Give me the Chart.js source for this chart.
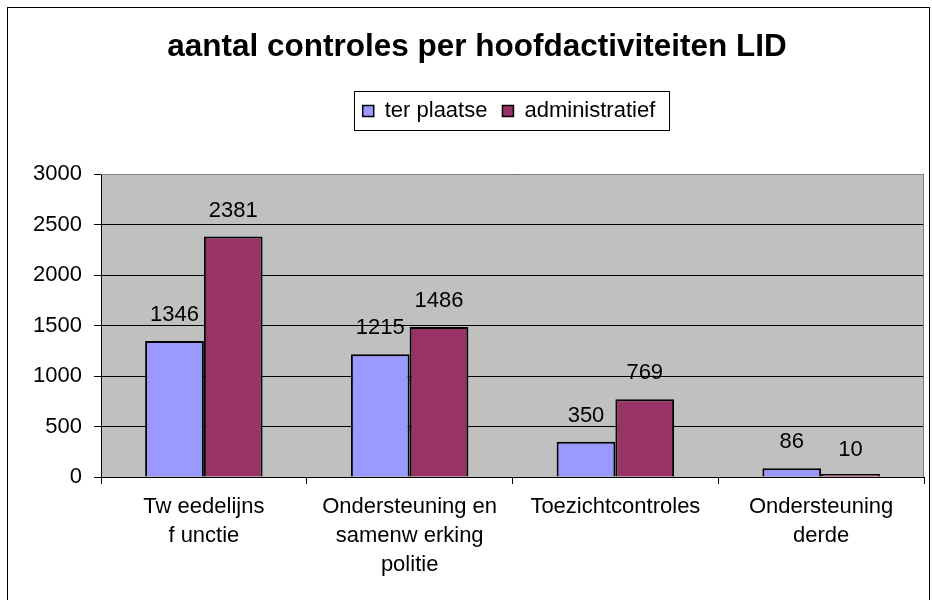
<!DOCTYPE html>
<html>
<head>
<meta charset="utf-8">
<script src="https://cdn.jsdelivr.net/npm/chart.js@4.4.1/dist/chart.umd.min.js"></script>
<style>
  html, body { margin: 0; padding: 0; background: #fff; }
  #wrap { width: 932px; height: 600px; position: relative; }
</style>
</head>
<body>
<div id="wrap"><canvas id="chart" width="932" height="600"></canvas></div>
<script>
// Data
const categories = [
  ['Tw eedelijns', 'f unctie'],
  ['Ondersteuning en', 'samenw erking', 'politie'],
  ['Toezichtcontroles'],
  ['Ondersteuning', 'derde']
];
const terPlaatse = [1346, 1215, 350, 86];
const administratief = [2381, 1486, 769, 10];
const yTicks = [0, 500, 1000, 1500, 2000, 2500, 3000];

const FONT = "'Liberation Sans', Arial, sans-serif";

// empty box between legend and plot
const spacer = {
  id: 'spacer',
  beforeInit(chart) {
    const box = {
      position: 'top', weight: 500, fullSize: true, options: {},
      top: 0, left: 0, right: 0, bottom: 0, width: 0, height: 0,
      isHorizontal() { return true; },
      update(maxWidth) { this.width = maxWidth; this.height = 42; },
      draw() {}
    };
    Chart.layouts.addBox(chart, box);
  },
  // title and legend are not centred on the canvas in the original
  afterLayout(chart) {
    const shift = (blk, d) => { if (blk) { blk.left += d; blk.right += d; } };
    shift(chart.titleBlock, 15);
    shift(chart.legend, 47);
  }
};

// gray plot area, outer frame, legend border
const frame = {
  id: 'frame',
  beforeDraw(chart) {
    const c = chart.ctx, a = chart.chartArea;
    c.save();
    c.fillStyle = '#fff';
    c.fillRect(0, 0, chart.width, chart.height);
    c.strokeStyle = '#000';
    c.lineWidth = 1;
    c.strokeRect(7.5, 7.5, 922, 600);
    c.fillStyle = '#C0C0C0';
    c.fillRect(a.left, a.top, a.right - a.left, a.bottom - a.top);
    c.restore();
  },
  afterDraw(chart) {
    const c = chart.ctx, a = chart.chartArea;
    c.save();
    c.strokeStyle = '#808080';
    c.lineWidth = 1;
    c.beginPath();
    c.moveTo(a.left, a.top + 0.5);
    c.lineTo(a.right - 0.5, a.top + 0.5);
    c.lineTo(a.right - 0.5, a.bottom);
    c.stroke();
    const boxes = chart.legend.legendHitBoxes;
    if (boxes.length) {
      const l = Math.min(...boxes.map(b => b.left));
      const r = Math.max(...boxes.map(b => b.left + b.width));
      const mid = boxes[0].top + boxes[0].height / 2;
      c.strokeStyle = '#000';
      c.strokeRect(Math.round(l - 9) + 0.5, Math.round(mid - 20) + 0.5, Math.round(r - l + 22), 39);
    }
    c.restore();
  }
};

// value labels above bars
const valueLabels = {
  id: 'valueLabels',
  afterDatasetsDraw(chart) {
    const c = chart.ctx;
    c.save();
    c.font = '22px ' + FONT;
    c.fillStyle = '#000';
    c.textAlign = 'center';
    c.textBaseline = 'middle';
    chart.data.datasets.forEach((ds, di) => {
      chart.getDatasetMeta(di).data.forEach((bar, i) => {
        const top = chart.scales.y.getPixelForValue(ds.data[i]);
        c.fillText(String(ds.data[i]), bar.x, top - 26);
      });
    });
    c.restore();
  }
};

new Chart(document.getElementById('chart'), {
  type: 'bar',
  data: {
    labels: categories,
    datasets: [
      { label: 'ter plaatse', data: terPlaatse, backgroundColor: '#9999FF', borderColor: '#000', borderWidth: 2, minBarLength: 3 },
      { label: 'administratief', data: administratief, backgroundColor: '#993366', borderColor: '#000', borderWidth: 2, minBarLength: 3 }
    ]
  },
  options: {
    responsive: false,
    animation: false,
    devicePixelRatio: 1,
    categoryPercentage: 0.571,
    barPercentage: 1,
    layout: { padding: { top: 10, left: 0, right: 8, bottom: 0 } },
    plugins: {
      title: {
        display: true,
        text: 'aantal controles per hoofdactiviteiten LID',
        color: '#000',
        font: { family: FONT, size: 31.5, weight: 'bold', lineHeight: 1.2 },
        padding: { top: 18, bottom: 19.2 }
      },
      legend: {
        display: true,
        labels: {
          color: '#000',
          font: { family: FONT, size: 22 },
          boxWidth: 11,
          boxHeight: 11,
          padding: 15,
          generateLabels(chart) {
            return chart.data.datasets.map((ds, i) => ({
              text: ds.label, fillStyle: ds.backgroundColor, strokeStyle: '#000',
              lineWidth: 1.5, datasetIndex: i, hidden: false
            }));
          }
        }
      },
      tooltip: { enabled: false }
    },
    scales: {
      x: {
        grid: { display: true, drawOnChartArea: false, color: '#000', tickLength: 7, offset: true },
        border: { color: '#000', width: 1 },
        ticks: { color: '#000', font: { family: FONT, size: 22, lineHeight: 1.32 }, padding: 8, maxRotation: 0, autoSkip: false },
        afterFit(scale) { scale.height = 123; }
      },
      y: {
        min: 0, max: 3000,
        afterBuildTicks(scale) { scale.ticks = yTicks.map(v => ({ value: v })); },
        grid: { color: '#000', tickLength: 7 },
        border: { color: '#000', width: 1 },
        ticks: { color: '#000', font: { family: FONT, size: 22 }, padding: 12, callback: v => String(v) },
        afterFit(scale) { scale.width = 101; }
      }
    }
  },
  plugins: [spacer, frame, valueLabels]
});
</script>
</body>
</html>
